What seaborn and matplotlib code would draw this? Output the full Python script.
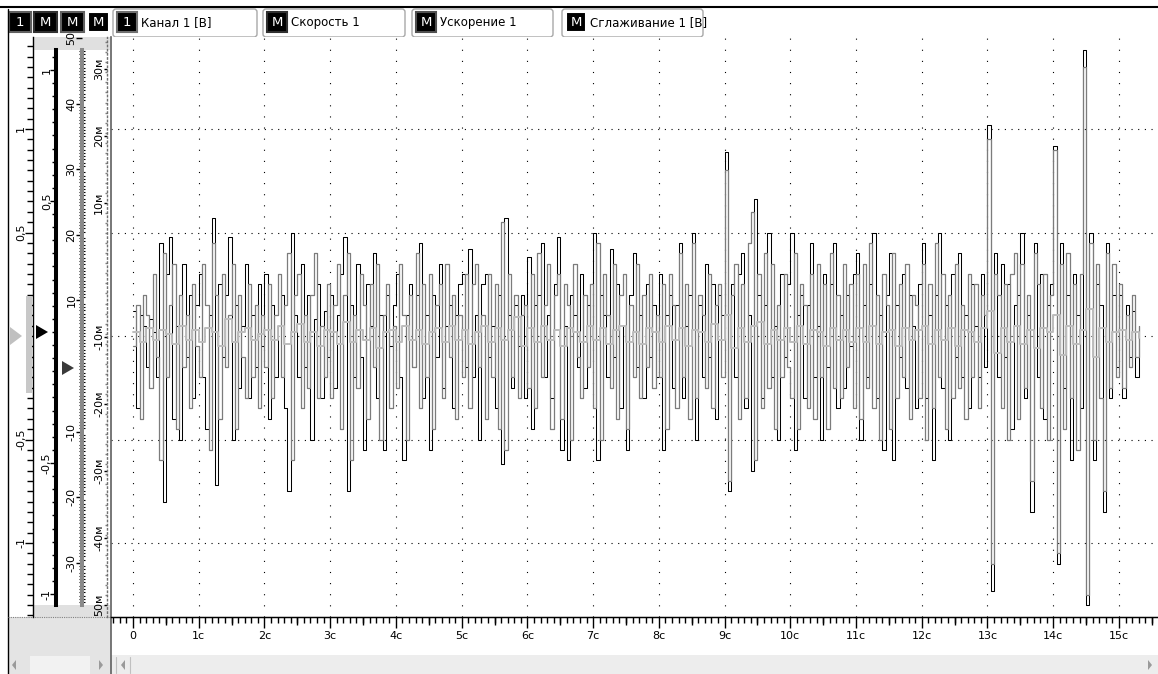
import matplotlib.pyplot as plt
import numpy as np
import seaborn as sns
from matplotlib.patches import Rectangle, Polygon, FancyBboxPatch
from matplotlib.ticker import FixedLocator, MultipleLocator

sns.set_style("ticks")
plt.rcParams['font.family'] = ['DejaVu Sans']

# --- data (volts), one row = one second ---
dt = 0.05
kanal = [
    0.12, -0.35, 0.10, 0.05, -0.15, 0.08, 0.02, -0.20, 0.45, -0.80, 0.30, 0.48, -0.40, 0.05, -0.50, 0.35, -0.10, 0.20, -0.30, 0.15,
    0.30, -0.20, -0.45, 0.10, 0.57, -0.72, 0.25, -0.10, 0.20, 0.48, -0.50, 0.15, -0.25, 0.05, 0.35, -0.30, 0.10, -0.15, 0.25, -0.05,
    0.30, -0.40, 0.15, -0.20, 0.05, 0.20, -0.35, -0.75, 0.50, 0.10, -0.20, 0.35, -0.15, 0.20, -0.50, 0.08, 0.25, -0.30, 0.12, -0.10,
    0.20, -0.25, 0.10, 0.30, 0.48, -0.75, 0.15, -0.20, 0.35, -0.10, -0.55, 0.25, 0.05, 0.40, -0.30, 0.10, -0.55, 0.20, -0.05, 0.15,
    0.30, -0.20, -0.60, 0.10, 0.25, -0.15, 0.20, 0.45, -0.30, 0.10, -0.55, 0.20, -0.10, 0.35, -0.25, 0.05, 0.15, -0.35, 0.10, 0.25,
    0.30, -0.15, 0.42, -0.20, 0.10, -0.50, 0.25, 0.30, -0.10, 0.05, -0.35, 0.20, -0.62, 0.57, 0.10, -0.25, 0.15, -0.05, 0.20, -0.30,
    0.38, -0.45, 0.15, 0.20, 0.45, -0.20, 0.10, -0.30, 0.25, 0.48, -0.55, 0.05, -0.60, 0.20, 0.10, -0.15, 0.30, -0.25, 0.15, 0.05,
    0.50, -0.60, 0.20, 0.10, -0.20, 0.42, -0.10, 0.25, -0.35, 0.05, -0.55, 0.20, 0.40, -0.15, 0.10, -0.30, 0.25, -0.10, 0.15, -0.20,
    0.30, -0.55, 0.10, 0.20, -0.25, 0.15, 0.45, -0.30, 0.05, 0.20, 0.50, -0.50, 0.15, -0.20, 0.35, -0.10, 0.25, -0.40, 0.20, 0.10,
    0.89, -0.75, 0.25, -0.20, 0.30, 0.40, -0.35, 0.10, -0.65, 0.66, 0.20, -0.30, 0.15, 0.50, -0.20, 0.05, -0.50, 0.30, -0.10, 0.25,
    0.50, -0.55, 0.10, 0.20, -0.30, 0.15, 0.45, -0.20, 0.05, -0.50, 0.30, -0.15, 0.25, 0.45, -0.35, 0.10, -0.25, 0.20, -0.05, 0.30,
    0.40, -0.50, 0.15, -0.20, 0.25, 0.50, -0.30, 0.10, -0.55, 0.20, 0.40, -0.60, 0.15, -0.10, 0.30, -0.25, 0.20, 0.05, -0.35, 0.25,
    0.45, -0.30, 0.10, -0.60, 0.20, 0.50, -0.25, 0.15, -0.50, 0.30, -0.10, 0.40, -0.20, 0.10, -0.35, 0.25, 0.05, -0.20, 0.30, -0.15,
    1.02, -1.23, 0.40, -0.20, 0.35, -0.10, 0.25, -0.45, 0.15, 0.20, 0.50, -0.30, 0.10, -0.85, 0.45, -0.20, 0.30, -0.40, 0.15, 0.25,
    0.92, -1.10, 0.45, -0.25, 0.20, -0.60, 0.30, 0.10, -0.35, 1.38, -1.30, 0.50, -0.60, 0.25, 0.15, -0.85, 0.45, -0.30, 0.20, -0.15,
    0.20, -0.30, 0.15, -0.10, 0.12, -0.20, 0.05,
]
uskor = [
    -0.05, 0.15, -0.40, 0.20, 0.10, -0.25, 0.30, -0.10, -0.60, 0.40, -0.20, 0.15, 0.35, -0.45, 0.20, -0.15, 0.10, -0.35, 0.25, -0.05,
    -0.20, 0.35, 0.15, -0.55, 0.45, 0.20, -0.40, 0.30, -0.15, 0.10, 0.35, -0.45, 0.20, -0.10, -0.30, 0.25, -0.20, 0.15, -0.35, 0.10,
    -0.15, 0.25, -0.30, 0.10, 0.30, -0.20, 0.15, 0.40, -0.60, 0.20, 0.30, -0.35, 0.10, -0.25, 0.20, 0.40, -0.30, 0.05, -0.20, 0.25,
    -0.30, 0.15, 0.35, -0.45, 0.20, 0.40, -0.60, 0.10, -0.25, 0.30, 0.15, -0.40, 0.25, -0.15, 0.35, -0.50, 0.10, 0.25, -0.35, 0.05,
    -0.25, 0.35, 0.10, -0.50, 0.20, -0.15, 0.40, -0.35, 0.25, -0.20, 0.30, -0.45, 0.15, 0.25, -0.30, 0.35, -0.10, 0.20, -0.40, 0.10,
    -0.20, 0.30, -0.35, 0.25, 0.35, -0.15, 0.10, -0.40, 0.30, -0.20, 0.25, -0.45, 0.55, -0.55, 0.30, -0.20, 0.20, -0.30, 0.10, 0.15,
    -0.25, 0.30, -0.35, 0.40, -0.20, 0.15, 0.35, -0.45, 0.20, 0.30, -0.40, 0.25, 0.15, -0.50, 0.35, -0.10, -0.30, 0.20, -0.15, 0.25,
    -0.35, 0.45, -0.50, 0.30, 0.10, -0.25, 0.35, -0.40, 0.20, 0.30, -0.45, 0.15, -0.20, 0.35, -0.30, 0.20, -0.15, 0.30, -0.25, 0.10,
    -0.20, 0.25, -0.45, 0.30, 0.15, -0.35, 0.40, -0.20, 0.25, -0.40, 0.45, -0.30, 0.20, 0.10, -0.25, 0.30, -0.35, 0.15, 0.25, -0.20,
    0.80, -0.70, 0.20, 0.35, -0.40, 0.25, -0.30, 0.45, 0.60, -0.60, 0.30, -0.35, 0.40, -0.25, 0.35, -0.45, 0.15, -0.20, 0.30, -0.15,
    -0.30, 0.40, -0.45, 0.25, 0.15, -0.35, 0.30, -0.40, 0.35, -0.20, 0.25, -0.45, 0.40, -0.25, 0.20, -0.30, 0.35, -0.15, 0.25, -0.35,
    0.30, -0.40, 0.35, -0.25, 0.45, -0.35, 0.20, -0.50, 0.30, 0.15, -0.45, 0.40, -0.30, 0.25, -0.20, 0.35, -0.40, 0.20, 0.15, -0.30,
    0.35, -0.50, 0.25, -0.35, 0.45, -0.20, 0.30, -0.45, 0.20, -0.30, 0.35, -0.25, 0.15, -0.40, 0.30, -0.20, 0.25, -0.35, 0.20, 0.10,
    0.95, -1.10, 0.30, 0.20, -0.35, 0.25, -0.50, 0.30, 0.40, -0.40, 0.35, -0.25, 0.20, -0.70, 0.40, 0.25, -0.35, 0.30, -0.50, 0.20,
    0.90, -1.05, 0.35, -0.45, 0.40, -0.30, 0.25, -0.55, 0.30, 1.30, -1.25, 0.45, -0.50, 0.35, -0.30, -0.75, 0.40, -0.25, 0.35, -0.20,
    0.25, -0.25, 0.10, -0.15, 0.20, -0.10, 0.05,
]
dt_sm = 0.1
sglaz = [
    0.02, -0.03, 0.04, -0.02, 0.03, 0.01, -0.04, 0.05, -0.02, 0.03,
    -0.03, 0.04, 0.02, -0.05, 0.08, -0.03, 0.02, 0.04, -0.02, 0.01,
    0.03, -0.02, 0.05, -0.04, 0.02, 0.06, -0.03, 0.02, -0.05, 0.03,
    0.02, -0.04, 0.07, -0.03, 0.03, -0.02, 0.04, -0.06, 0.02, 0.03,
    -0.03, 0.05, -0.02, 0.03, -0.04, 0.02, 0.04, -0.03, 0.05, -0.02,
    0.03, -0.04, 0.02, 0.05, -0.03, 0.04, -0.02, 0.03, 0.09, -0.05,
    0.04, -0.03, 0.05, -0.02, 0.03, -0.05, 0.04, 0.02, -0.03, 0.05,
    -0.02, 0.04, -0.04, 0.03, 0.05, -0.03, 0.02, -0.04, 0.04, 0.02,
    -0.03, 0.05, -0.02, 0.04, -0.05, 0.03, 0.02, -0.03, 0.06, -0.02,
    0.10, -0.06, 0.04, -0.03, 0.05, 0.07, -0.04, 0.03, -0.02, 0.04,
    -0.03, 0.05, -0.04, 0.03, 0.02, -0.05, 0.04, -0.02, 0.03, -0.03,
    0.04, -0.03, 0.05, -0.04, 0.02, 0.03, -0.05, 0.04, -0.02, 0.03,
    0.05, -0.04, 0.03, -0.02, 0.04, -0.05, 0.03, 0.02, -0.03, 0.04,
    0.12, -0.08, 0.04, -0.03, 0.05, -0.04, 0.03, -0.06, 0.04, 0.02,
    0.10, -0.09, 0.05, -0.04, 0.03, 0.13, -0.10, 0.04, -0.03, 0.02,
    0.03, -0.02, 0.02, -0.01,
]

time_ticks = list(range(16))
time_labels = ['0'] + [f'{i}с' for i in range(1, 16)]

legend_marks = ['1', 'M', 'M', 'M']
legend_names = ['Канал 1 [В]', 'Скорость 1', 'Ускорение 1', 'Сглаживание 1 [В]']

r1_ticks = [1, 0.5, -0.5, -1]
r1_labels = ['1', '0,5', '-0,5', '-1']
r3_ticks = [50, 40, 30, 20, 10, -10, -20, -30]
r3_labels = ['50', '40', '30', '20', '10', '-10', '-20', '-30']
r4_ticks = [30, 20, 10, -10, -20, -30, -40, -50]
r4_labels = ['30м', '20м', '10м', '-10м', '-20м', '-30м', '-40м', '50м']

# --- layout helpers (pixel coords of the 1158x674 screen) ---
W, H = 1158, 674


def px_box(x0, y0, x1, y1):
    return [x0 / W, 1 - y1 / H, (x1 - x0) / W, (y1 - y0) / H]


fig = plt.figure(figsize=(W / 100, H / 100), dpi=100)
fig.patch.set_facecolor('white')

# background chrome
bg = fig.add_axes([0, 0, 1, 1], zorder=-5)
bg.set_xlim(0, W)
bg.set_ylim(H, 0)
bg.axis('off')
bg.add_patch(Rectangle((33, 37), 77, 13, fc='#e0e0e0', ec='none'))
bg.add_patch(Rectangle((33, 605), 77, 12, fc='#e0e0e0', ec='none'))
bg.add_patch(Rectangle((8, 617), 103, 57, fc='#e4e4e4', ec='none'))
bg.add_patch(Rectangle((111, 655), 1047, 19, fc='#ededed', ec='none'))
bg.add_patch(Rectangle((30, 656), 60, 18, fc='#f2f2f2', ec='none'))
bg.plot([8, 8], [9, 674], color='black', lw=1)
bg.plot([111, 111], [617, 674], color='#606060', lw=1.2)
bg.plot([8, 111], [617, 617], color='#808080', lw=0.8, ls=(0, (1, 1)))
bg.plot([0, W], [7, 7], color='black', lw=1.5)
for xa, d in [(14, -1), (101, 1), (123, -1), (1150, 1)]:
    bg.add_patch(Polygon([(xa - 2 * d, 660), (xa + 2 * d, 665), (xa - 2 * d, 670)],
                         fc='#9a9a9a', ec='none'))
bg.plot([116, 116], [657, 673], color='#c0c0c0', lw=0.8)
bg.plot([130, 130], [657, 673], color='#c0c0c0', lw=0.8)

# header buttons
for (x0, x1), mark, ec in zip([(8, 32), (33, 58), (60, 85), (87, 110)], legend_marks,
                              ['#606060', '#303030', '#606060', 'white']):
    bg.add_patch(Rectangle((x0 + 1, 12), x1 - x0 - 2, 20, fc='black', ec=ec, lw=1.5))
    bg.text((x0 + x1) / 2, 22.5, mark, color='white', fontsize=9.5, ha='center', va='center')

# legend tabs
for x0, x1, mark, name, ec in zip([113, 263, 412, 562], [257, 405, 553, 703],
                                  legend_marks, legend_names,
                                  ['#707070', '#303030', '#505050', 'white']):
    bg.add_patch(FancyBboxPatch((x0, 9), x1 - x0, 28, boxstyle='round,pad=0,rounding_size=3',
                                fc='white', ec='#a8a8a8', lw=1))
    bg.add_patch(Rectangle((x0 + 4, 12), 20, 20, fc='black', ec=ec, lw=1.5))
    bg.text(x0 + 14, 22.5, mark, color='white', fontsize=9.5, ha='center', va='center')
    bg.text(x0 + 28, 22.5, name, color='black', fontsize=8.5, ha='left', va='center')

# --- main plot ---
ax = fig.add_axes(px_box(111, 37, 1158, 617), zorder=1)
ax.set_facecolor('white')
t_k = np.arange(len(kanal)) * dt
t_u = np.arange(len(uskor)) * dt
t_s = np.arange(len(sglaz)) * dt_sm
sns.lineplot(x=t_k, y=kanal, ax=ax, color='black', lw=0.75, drawstyle='steps-post', estimator=None)
sns.lineplot(x=t_u, y=uskor, ax=ax, color='#7c7c7c', lw=0.9, drawstyle='steps-post', estimator=None)
sns.lineplot(x=t_s, y=sglaz, ax=ax, color='#bdbdbd', lw=1.4, drawstyle='steps-post', estimator=None)

ax.set_xlim((111 - 133) / 65.73, (1158 - 133) / 65.73)
ax.set_ylim(-(617 - 336) / 207, (336 - 37) / 207)
ax.set_xlabel('')
ax.set_ylabel('')
ax.set_xticks(time_ticks)
ax.set_xticklabels(time_labels, fontsize=8, color='black')
ax.xaxis.set_minor_locator(MultipleLocator(0.1))
ax.set_yticks([-1, -0.5, 0, 0.5, 1])
ax.tick_params(axis='y', which='both', left=False, labelleft=False, length=0)
ax.tick_params(axis='x', which='major', bottom=True, length=8, width=1, color='black', pad=2)
ax.tick_params(axis='x', which='minor', bottom=True, length=4, width=1, color='black')
ax.grid(True, which='major', axis='x', color='black', lw=0.8, ls=(0, (1, 9)))
ax.grid(True, which='major', axis='y', color='black', lw=0.8, ls=(0, (1, 5)))
for s in ['top', 'right']:
    ax.spines[s].set_visible(False)
ax.spines['left'].set_color('#606060')
ax.spines['left'].set_linewidth(1.2)
ax.spines['bottom'].set_color('black')
ax.spines['bottom'].set_linewidth(1)

sec = ax.secondary_xaxis('bottom')
sec.set_xticks(np.arange(0.5, 15.6, 1.0))
sec.tick_params(axis='x', bottom=True, length=6, width=1, color='black', labelbottom=False)


# --- left rulers ---
def make_ruler(x, lim, majors, labels, minors, lw, color, maj_len, min_len, pad,
               bounds=None, ls='-', min_dir='out', min_color='black', min_width=1.0):
    r = fig.add_axes(px_box(x, 37, x + 1, 617), zorder=2)
    r.set_facecolor('none')
    r.set_xticks([])
    for s in ['top', 'right', 'bottom']:
        r.spines[s].set_visible(False)
    sp = r.spines['left']
    sp.set_linewidth(lw)
    sp.set_color(color)
    sp.set_linestyle(ls)
    if bounds:
        sp.set_bounds(*bounds)
    r.set_ylim(*lim)
    r.set_yticks(majors)
    r.set_yticklabels(labels, rotation=90, va='center', fontsize=8, color='black')
    r.yaxis.set_minor_locator(FixedLocator(minors))
    r.tick_params(axis='y', which='major', left=True, length=maj_len, width=1,
                  color='black', pad=pad, direction='out')
    r.tick_params(axis='y', which='minor', left=True, length=min_len, width=min_width,
                  color=min_color, direction=min_dir)
    return r


make_ruler(33, (-(617 - 336) / 207, (336 - 37) / 207), r1_ticks, r1_labels,
           np.arange(-1.35, 1.44, 0.05), 1.0, 'black', 6, 4, -1)
make_ruler(56, (-(617 - 332) / 262, (332 - 37) / 262), r1_ticks, r1_labels,
           np.arange(-1.0, 1.06, 0.05), 2.9, 'black', 4, 3, -1,
           bounds=(-(605 - 332) / 262, (332 - 50) / 262))
make_ruler(82, (-(617 - 366) / 6.56, (366 - 37) / 6.56), r3_ticks, r3_labels,
           np.arange(-36, 48.1, 0.5), 2.9, '#8a8a8a', 4, 4, 0,
           bounds=(-(605 - 366) / 6.56, (366 - 50) / 6.56), min_dir='inout',
           min_color='black', min_width=0.8)
make_ruler(107, (-(617 - 270) / 6.7, (270 - 37) / 6.7), r4_ticks, r4_labels,
           np.arange(-50, 35, 1.5), 1.0, '#707070', 2, 1.5, 0, ls=(0, (1, 2)),
           min_color='#808080')

# zero markers on top
fg = fig.add_axes([0, 0, 1, 1], zorder=10)
fg.set_xlim(0, W)
fg.set_ylim(H, 0)
fg.axis('off')
fg.add_patch(Rectangle((26, 296), 6, 97, fc='#c8c8c8', ec='none'))
fg.add_patch(Polygon([(10, 327), (22, 336), (10, 345)], fc='#c0c0c0', ec='none'))
fg.add_patch(Polygon([(36, 325), (48, 332), (36, 339)], fc='black', ec='none'))
fg.add_patch(Polygon([(62, 361), (74, 368), (62, 375)], fc='#3a3a3a', ec='none'))

fig.savefig('out.png', dpi=100)
